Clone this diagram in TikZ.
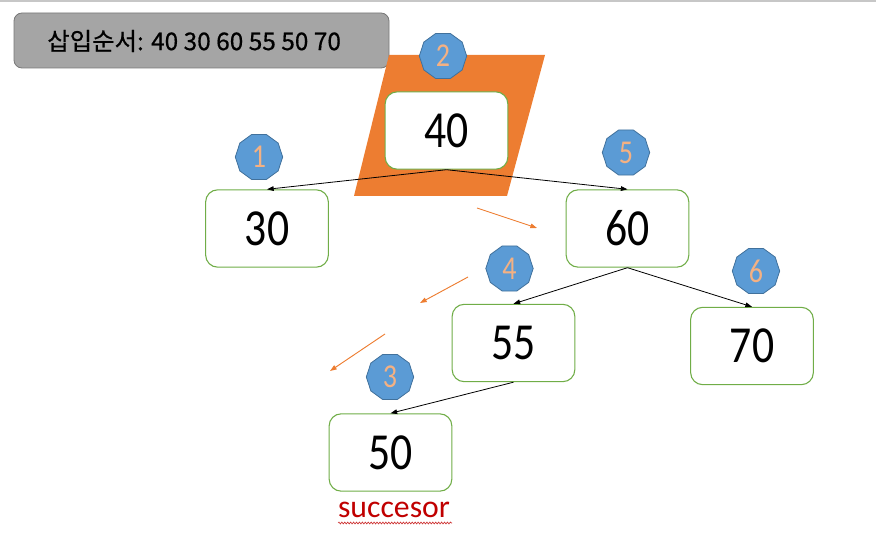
\documentclass[tikz,border=0pt]{standalone}
\usepackage{fontspec}
\usetikzlibrary{arrows.meta,shapes.geometric,decorations.pathmorphing}
\newfontfamily\krfont[FakeBold=0.6]{Noto Sans CJK KR}
\newfontfamily\numfont[FakeStretch=0.84]{Carlito}
\newfontfamily\calfont{Carlito}
\definecolor{myorange}{HTML}{ED7D31}
\definecolor{myblue}{HTML}{5B9BD5}
\definecolor{mybluedark}{HTML}{41719C}
\definecolor{mypeach}{HTML}{F4B183}
\definecolor{mygreen}{HTML}{70AD47}
\definecolor{mygray}{HTML}{A5A5A5}
\definecolor{mygraydark}{HTML}{787878}
\definecolor{myred}{HTML}{C00000}
\begin{document}
\begin{tikzpicture}[x=0.75pt,y=-0.75pt,
  keybox/.style={draw=mygreen,line width=0.8pt,fill=white,rounded corners=9pt,
    minimum width=92pt,minimum height=58pt,inner sep=0pt,
    font=\numfont\fontsize{39}{42}\selectfont},
  badge/.style={regular polygon,regular polygon sides=10,minimum size=35.5pt,inner sep=0pt,
    fill=myblue,draw=mybluedark,line width=0.6pt,text=mypeach,
    font=\numfont\fontsize{25}{27}\selectfont},
  treeedge/.style={draw=black,line width=0.6pt,-{Triangle[length=5pt,width=3.5pt]}},
  orangearrow/.style={draw=myorange,line width=0.7pt,-{Triangle[length=5pt,width=3.5pt]}}]
\useasboundingbox (0,0) rectangle (876,535);
% top rule
\draw[color=black!22,line width=1.2pt] (0,1) -- (876,1);
% title box
\draw[fill=mygray,draw=mygraydark,line width=0.6pt,rounded corners=6pt] (14,13) rectangle (389,68);
\node[anchor=west,inner sep=0pt,font=\krfont\fontsize{18.3}{21}\selectfont] (title) at (47,41) {삽입순서: 40 30 60 55 50 70};
% orange parallelogram
\fill[myorange] (389,55) -- (545,55) -- (507,196) -- (354,196) -- cycle;
% key nodes
\node[keybox] (n40) at (446.5,130.5) {40};
\node[keybox] (n30) at (267,228.5) {30};
\node[keybox] (n60) at (627.5,228.5) {60};
\node[keybox] (n55) at (513.5,343) {55};
\node[keybox] (n70) at (752,346) {70};
\node[keybox] (n50) at (390.5,452.5) {50};
% badges
\node[badge] (b1) at (259,157) {1};
\node[badge] (b2) at (443,56) {2};
\node[badge] (b3) at (390,377) {3};
\node[badge] (b4) at (509.5,268.5) {4};
\node[badge] (b5) at (626,152.5) {5};
\node[badge] (b6) at (756,271) {6};
% tree edges
\draw[treeedge] (n40.south) -- (n30.north);
\draw[treeedge] (n40.south) -- (n60.north);
\draw[treeedge] (n60.south) -- (n55.north);
\draw[treeedge] (n60.south) -- (n70.north);
\draw[treeedge] (n55.south) -- (n50.north);
% orange arrows
\coordinate (o1s) at (477,208);
\coordinate (o1e) at (537,228);
\coordinate (o2s) at (468,277);
\coordinate (o2e) at (420,303);
\coordinate (o3s) at (385,334);
\coordinate (o3e) at (330,371);
\draw[orangearrow] (o1s) -- (o1e);
\draw[orangearrow] (o2s) -- (o2e);
\draw[orangearrow] (o3s) -- (o3e);
% successor label
\node[text=myred,inner sep=0pt,font=\calfont\fontsize{23.8}{26}\selectfont] (succ) at (394,510) {succesor};
\coordinate (w1) at (338,523);
\coordinate (w2) at (452,523);
\draw[myred!80,line width=0.5pt,decorate,decoration={snake,amplitude=0.7pt,segment length=2.2pt}] (w1) -- (w2);
\end{tikzpicture}
\end{document}
